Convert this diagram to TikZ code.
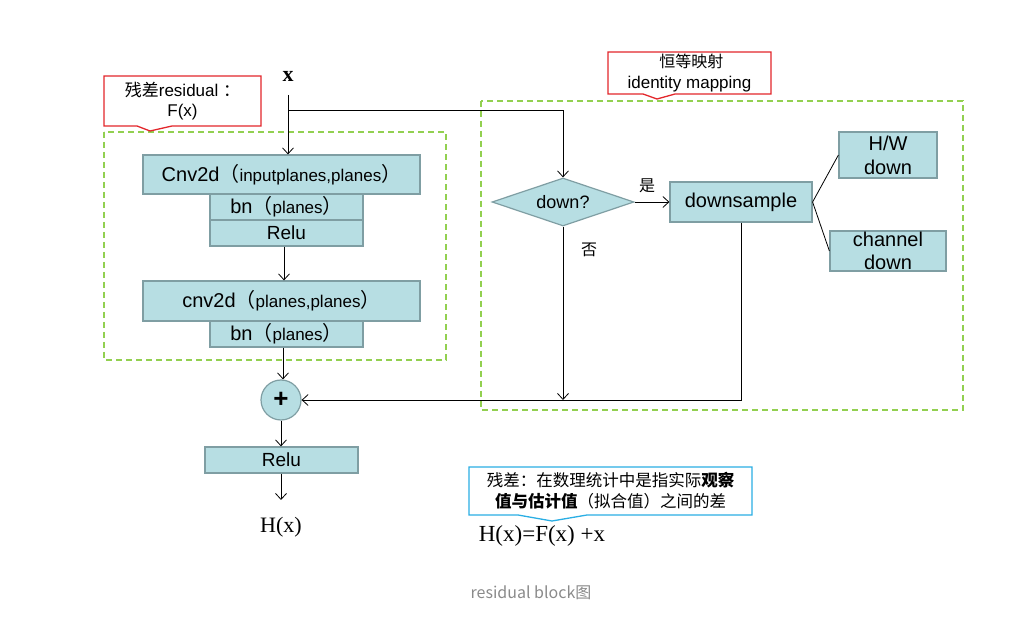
\documentclass[tikz,border=0pt]{standalone}
\usepackage{fontspec}
\setmainfont{Liberation Serif}
\setsansfont{Liberation Sans}
\newfontfamily\cjk{Noto Sans CJK SC}
\usetikzlibrary{shapes.geometric,arrows.meta}
\definecolor{boxfill}{HTML}{B7DEE3}
\definecolor{boxline}{HTML}{7F9EA3}
\definecolor{dgreen}{HTML}{92D050}
\definecolor{cred}{HTML}{E3262B}
\definecolor{cblue}{HTML}{2AAEE4}
\definecolor{capgray}{HTML}{8A8A8A}
\newcommand\zlp{{\cjk （}}
\newcommand\zrp{{\cjk ）}}
\newcommand\fs[2]{\fontsize{#1}{#2}\selectfont}
\begin{document}
\begin{tikzpicture}[x=1pt,y=-1pt,
  box/.style={draw=boxline, fill=boxfill, line width=1.2pt, inner sep=0pt, font=\sffamily\fs{20}{24}},
  arr/.style={-{Straight Barb[length=6pt,width=11pt]}, line width=0.8pt},
  ln/.style={line width=0.8pt},
  grp/.style={draw=dgreen, line width=1.3pt, dash pattern=on 6pt off 4pt},
  lbl/.style={inner sep=0pt, align=center}
]
\useasboundingbox (0,0) rectangle (1021,617);

% green dashed groups
\draw[grp] (104,132) rectangle (446,360);
\draw[grp] (481,101) rectangle (963,410);

% callouts
\draw[cred, line width=1.3pt, fill=white] (104,76) -- (261,76) -- (261,126) -- (172,126) -- (150,131) -- (137,126) -- (104,126) -- cycle;
\node[lbl, font=\sffamily\fs{17}{20}] (cal1) at (182.5,101) {{\cjk 残差}residual {\cjk ：}\\ F(x)};
\draw[cred, line width=1.3pt, fill=white] (608,52) -- (771,52) -- (771,94) -- (675,94) -- (657,99) -- (643,94) -- (608,94) -- cycle;
\node[lbl, font=\sffamily\fs{17}{21}] (cal2) at (689.5,73) {{\cjk\fs{16}{21} 恒等映射}\\ identity mapping};
\draw[cblue, line width=1.3pt, fill=white] (469,467) -- (752,467) -- (752,515) -- (587,515) -- (552,521) -- (518,515) -- (469,515) -- cycle;
\node[lbl, font=\cjk\fs{16.5}{21}] (cal3) at (610.5,491) {残差：在数理统计中是指实际\textbf{观察}\\ \textbf{值与估计值}（拟合值）之间的差};

% input x
\node[lbl, font=\rmfamily\bfseries\fs{22}{22}] (xin) at (288,76) {x};

% residual branch
\node[box, minimum width=277pt, minimum height=39pt] (c1) at (281.5,174.5) {Cnv2d\zlp{\fs{17}{20}inputplanes,planes}\zrp};
\node[box, minimum width=153pt, minimum height=26pt] (bn1) at (286.5,207) {bn\zlp{\fs{17}{20}planes}\zrp};
\node[box, minimum width=153pt, minimum height=26pt, font=\sffamily\fs{19}{22}] (re1) at (286.5,233) {Relu};
\node[box, minimum width=277pt, minimum height=40pt] (c2) at (281.5,301) {cnv2d\zlp{\fs{17}{20}planes,planes}\zrp};
\node[box, minimum width=153pt, minimum height=26pt] (bn2) at (286.5,334) {bn\zlp{\fs{17}{20}planes}\zrp};
\node[box, circle, minimum size=40pt, font=\sffamily\bfseries\fs{26}{26}] (plus) at (281,400) {+};
\node[box, minimum width=153pt, minimum height=26pt, font=\sffamily\fs{19}{22}] (re2) at (281.5,460) {Relu};
\node[lbl, font=\rmfamily\fs{22}{22}] (hx) at (281,527) {H(x)};
\node[lbl, font=\rmfamily\fs{23}{23}] (eq) at (542,536) {H(x)=F(x) +x};
\node[lbl, font=\cjk\fs{16}{16}, text=capgray] (cap) at (531,593) {residual block图};

% identity branch
\node[box, diamond, aspect=2.96, minimum width=142pt, minimum height=48pt, font=\sffamily\fs{18}{18}] (dn) at (563,202) {down?};
\node[box, minimum width=142pt, minimum height=40pt, font=\sffamily\fs{20}{20}] (ds) at (741,202) {downsample};
\node[box, minimum width=98pt, minimum height=46pt, font=\sffamily\fs{20}{24}, align=center] (hw) at (888,155) {H/W\\down};
\node[box, minimum width=116pt, minimum height=40pt, font=\sffamily\fs{20}{23}, align=center] (ch) at (888,251) {channel\\down};
\node[lbl, font=\cjk\fs{16}{16}] (yes) at (647,186) {是};
\node[lbl, font=\cjk\fs{16}{16}] (no) at (589,250) {否};

% connectors
\coordinate (split) at (288,110);
\coordinate (corner) at (563,110);
\coordinate (join) at (563,400);
\draw[arr] (xin.south |- 0,95) -- (xin.south |- c1.north);
\draw[arr] (split) -- (corner) -- (dn.north);
\draw[arr] (re1.south -| 284,0) -- (c2.north -| 284,0);
\draw[arr] (bn2.south -| 283,0) -- (plus.north -| 283,0);
\draw[arr] (plus.south) -- (re2.north -| plus.south);
\draw[arr] (re2.south -| plus.south) -- (281,500);
\draw[arr] (dn.east) -- (ds.west);
\draw[ln] (ds.east) -- (hw.west);
\draw[ln] (ds.east) -- (ch.west);
\draw[arr] (ds.south) -- (ds.south |- plus.east) -- (plus.east);
\draw[arr] (dn.south) -- (join);
\end{tikzpicture}
\end{document}
